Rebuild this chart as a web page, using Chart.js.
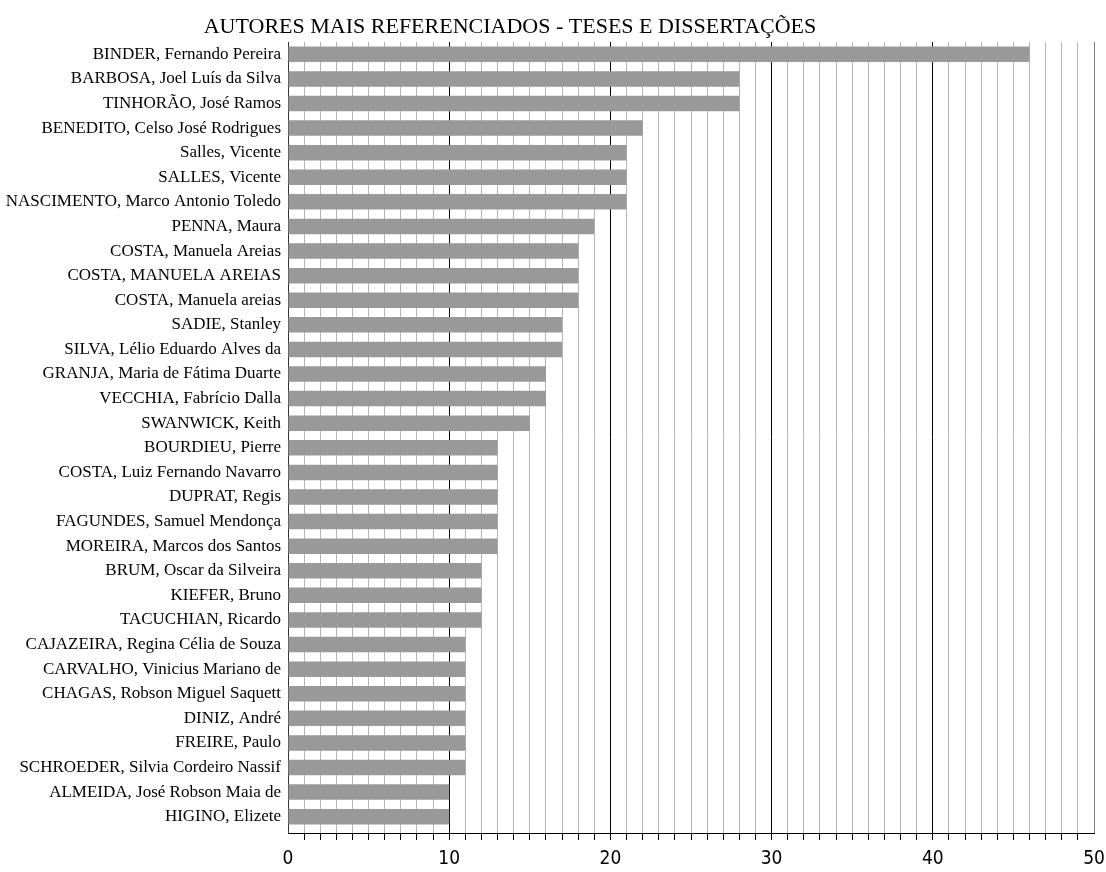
<!DOCTYPE html>
<html lang="pt">
<head>
<meta charset="utf-8">
<title>Autores mais referenciados - Teses e Dissertações</title>
<script src="https://cdn.jsdelivr.net/npm/chart.js@4.4.1/dist/chart.umd.min.js"></script>
<style>
  html, body { margin: 0; padding: 0; background: #ffffff; }
  #wrap { width: 1106px; height: 872px; position: relative; }
  canvas { display: block; }
</style>
</head>
<body>
<div id="wrap"><canvas id="chart" width="1106" height="872"></canvas></div>
<script>
const chartTitle = 'AUTORES MAIS REFERENCIADOS - TESES E DISSERTAÇÕES';

const authors = [
  'BINDER, Fernando Pereira',
  'BARBOSA, Joel Luís da Silva',
  'TINHORÃO, José Ramos',
  'BENEDITO, Celso José Rodrigues',
  'Salles, Vicente',
  'SALLES, Vicente',
  'NASCIMENTO, Marco Antonio Toledo',
  'PENNA, Maura',
  'COSTA, Manuela Areias',
  'COSTA, MANUELA AREIAS',
  'COSTA, Manuela areias',
  'SADIE, Stanley',
  'SILVA, Lélio Eduardo Alves da',
  'GRANJA, Maria de Fátima Duarte',
  'VECCHIA, Fabrício Dalla',
  'SWANWICK, Keith',
  'BOURDIEU, Pierre',
  'COSTA, Luiz Fernando Navarro',
  'DUPRAT, Regis',
  'FAGUNDES, Samuel Mendonça',
  'MOREIRA, Marcos dos Santos',
  'BRUM, Oscar da Silveira',
  'KIEFER, Bruno',
  'TACUCHIAN, Ricardo',
  'CAJAZEIRA, Regina Célia de Souza',
  'CARVALHO, Vinicius Mariano de',
  'CHAGAS, Robson Miguel Saquett',
  'DINIZ, André',
  'FREIRE, Paulo',
  'SCHROEDER, Silvia Cordeiro Nassif',
  'ALMEIDA, José Robson Maia de',
  'HIGINO, Elizete'
];

const citations = [
  46, 28, 28, 22, 21, 21, 21, 19, 18, 18, 18, 17, 17, 16, 16, 15,
  13, 13, 13, 13, 13, 12, 12, 12, 11, 11, 11, 11, 11, 11, 10, 10
];

const axisMin = 0;
const axisMax = 50;
const labelledTicks = [0, 10, 20, 30, 40, 50];

// Title drawn above the plot, centred over the chart block
const titlePlugin = {
  id: 'serifTitle',
  afterDraw(chart) {
    const ctx = chart.ctx;
    ctx.save();
    ctx.fillStyle = '#000000';
    ctx.font = '22px "Liberation Serif", "Times New Roman", serif';
    ctx.textAlign = 'center';
    ctx.textBaseline = 'alphabetic';
    ctx.fillText(chartTitle, 510, 33);
    ctx.restore();
  }
};

// Leaves a little extra room under the last bar, above the value axis
const categoryInsetPlugin = {
  id: 'categoryInset',
  afterLayout(chart) {
    const y = chart.scales.y;
    y._endPixel = y.bottom - 4;
    y._length = y._endPixel - y._startPixel;
  }
};

new Chart(document.getElementById('chart'), {
  type: 'bar',
  data: {
    labels: authors,
    datasets: [{
      data: citations,
      backgroundColor: '#999999',
      borderWidth: 0,
      barPercentage: 0.63,
      categoryPercentage: 1.0
    }]
  },
  options: {
    indexAxis: 'y',
    responsive: false,
    animation: false,
    devicePixelRatio: 1,
    layout: { padding: { top: 42, right: 12, bottom: 0, left: 0 } },
    plugins: {
      legend: { display: false },
      title: { display: false },
      tooltip: { enabled: false }
    },
    scales: {
      x: {
        type: 'linear',
        position: 'bottom',
        min: axisMin,
        max: axisMax,
        afterFit(scale) {
          scale.height = 39;
          scale.paddingLeft = 0;
          scale.paddingRight = 0;
        },
        border: { display: true, color: '#000000', width: 1 },
        grid: {
          display: true,
          drawTicks: true,
          tickLength: 7,
          lineWidth: 1,
          color(ctx) {
            const v = ctx.tick ? ctx.tick.value : 0;
            if (v === axisMax) return '#808080';
            if (v === axisMin) return '#333333';
            return v % 10 === 0 ? '#000000' : '#b4b4b4';
          },
          tickColor(ctx) {
            const v = ctx.tick ? ctx.tick.value : 0;
            return (v === axisMin || v === axisMax) ? 'rgba(0,0,0,0)' : '#000000';
          }
        },
        ticks: {
          stepSize: 1,
          autoSkip: false,
          maxRotation: 0,
          padding: 8,
          color: '#000000',
          font: { family: '"DejaVu Sans Condensed", "DejaVu Sans", sans-serif', size: 19 },
          callback(value) {
            return labelledTicks.includes(value) ? String(value) : '';
          }
        }
      },
      y: {
        type: 'category',
        afterFit(scale) { scale.width = 288; },
        border: { display: true, color: '#333333', width: 1 },
        grid: { display: false, drawTicks: false },
        ticks: {
          padding: 7,
          autoSkip: false,
          color: '#000000',
          font: { family: '"Liberation Serif", "Times New Roman", serif', size: 17 }
        }
      }
    }
  },
  plugins: [titlePlugin, categoryInsetPlugin]
});
</script>
</body>
</html>
